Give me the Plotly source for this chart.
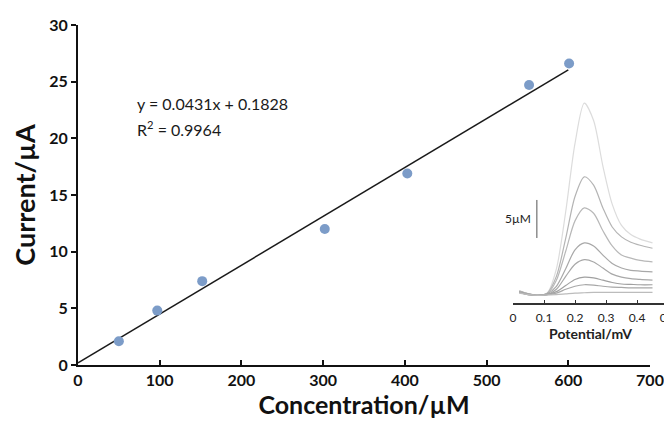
import plotly.graph_objects as go

# ---- main calibration data ----
conc = [50, 97, 152, 302, 403, 552, 601]
current = [2.1, 4.8, 7.4, 12.0, 16.9, 24.7, 26.6]
slope = 0.0431
intercept = 0.1828
fit_x = [0, 600]
eq_text = "y = 0.0431x + 0.1828"
r2_text = "R<sup>2</sup> = 0.9964"
x_ticks = [0, 100, 200, 300, 400, 500, 600, 700]
y_ticks = [0, 5, 10, 15, 20, 25, 30]

# ---- inset voltammograms ----
potential = [0.02, 0.05, 0.08, 0.11, 0.14, 0.17, 0.20, 0.23, 0.26, 0.29, 0.32, 0.35, 0.38, 0.41, 0.45]
curve1 = [1.6, 1.2, 1.0, 1.3, 4.5, 12.0, 21.0, 26.3, 24.0, 18.0, 13.0, 10.2, 9.0, 8.4, 7.9]
curve2 = [1.6, 1.2, 1.0, 1.3, 3.5, 8.5, 14.0, 16.6, 15.5, 12.5, 10.0, 8.7, 8.0, 7.6, 7.2]
curve3 = [1.5, 1.2, 1.0, 1.2, 3.0, 6.8, 10.8, 12.5, 11.8, 9.5, 7.5, 6.3, 5.9, 5.6, 5.4]
curve4 = [1.5, 1.2, 1.0, 1.2, 2.2, 4.5, 7.0, 7.9, 7.5, 6.3, 5.2, 4.6, 4.3, 4.2, 4.1]
curve5 = [1.4, 1.1, 1.0, 1.1, 1.8, 3.5, 5.1, 5.7, 5.4, 4.6, 3.8, 3.4, 3.2, 3.1, 3.0]
curve6 = [1.4, 1.1, 1.0, 1.1, 1.5, 2.3, 3.1, 3.4, 3.3, 3.0, 2.7, 2.5, 2.45, 2.4, 2.4]
curve7 = [1.4, 1.1, 1.0, 1.1, 1.3, 1.8, 2.2, 2.4, 2.35, 2.2, 2.1, 2.05, 2.0, 2.0, 2.0]
curve8 = [1.3, 1.1, 1.0, 1.05, 1.1, 1.2, 1.3, 1.35, 1.4, 1.4, 1.4, 1.4, 1.4, 1.4, 1.4]
curves = [curve1, curve2, curve3, curve4, curve5, curve6, curve7, curve8]
curve_colors = ["#dcdcdc", "#b4b4b4", "#b8b8b8", "#a8a8a8", "#a8a8a8", "#a0a0a0", "#a8a8a8", "#bcbcbc"]
inset_ticks = [0, 0.1, 0.2, 0.3, 0.4, 0.5]
inset_ticktext = ["0", "0.1", "0.2", "0.3", "0.4", "0.5"]
scale_bar_x = 0.077
scale_bar_y0 = 8.55
scale_bar_len = 5
scale_bar_label = "5µM"
eq_pos = (70, 23.1)
r2_pos = (70, 20.9)

FONT = "Lato"

# page is shown with an 8px body offset; layout numbers below are figure pixels
L, T = 70, 17
PW, PH = 602, 340

fig = go.Figure()

# trend line
fig.add_trace(go.Scatter(
    x=fit_x, y=[slope * v + intercept for v in fit_x],
    mode="lines", line=dict(color="#1a1a1a", width=1.5),
    showlegend=False, hoverinfo="skip"))

# data points
fig.add_trace(go.Scatter(
    x=conc, y=current, mode="markers",
    marker=dict(size=10, color="#7c9cc8", line=dict(width=0)),
    showlegend=False))

# inset curves
for c, col in zip(curves, curve_colors):
    fig.add_trace(go.Scatter(
        x=potential, y=c, mode="lines", xaxis="x2", yaxis="y2",
        line=dict(color=col, width=1.2, shape="spline", smoothing=0.8),
        showlegend=False, hoverinfo="skip"))

# scale bar
fig.add_trace(go.Scatter(
    x=[scale_bar_x, scale_bar_x], y=[scale_bar_y0, scale_bar_y0 + scale_bar_len],
    mode="lines", xaxis="x2", yaxis="y2",
    line=dict(color="#555555", width=1),
    showlegend=False, hoverinfo="skip"))

fig.update_layout(
    width=672, height=432,
    margin=dict(l=L, r=672 - L - PW, t=T, b=432 - T - PH),
    paper_bgcolor="white", plot_bgcolor="rgba(0,0,0,0)",
    font=dict(family=FONT, color="#1a1a1a"),
    xaxis=dict(
        domain=[0, 572 / PW], range=[0, 700], tickvals=x_ticks, automargin=False,
        showgrid=False, zeroline=False, showline=True, linecolor="#111111", linewidth=2,
        ticks="inside", ticklen=5, tickwidth=1.5, tickcolor="#111111",
        tickfont=dict(size=16, family=FONT, color="#111111", weight="bold"),
        title=dict(text="Concentration/µM", standoff=4,
                   font=dict(size=25, family=FONT, color="#111111", weight="bold")),
    ),
    yaxis=dict(
        domain=[0, 1], range=[0, 30], tickvals=y_ticks, automargin=False,
        showgrid=False, zeroline=False, showline=True, linecolor="#111111", linewidth=2,
        ticks="outside", ticklen=5, tickwidth=1.5, tickcolor="#111111",
        tickfont=dict(size=16, family=FONT, color="#111111", weight="bold"),
        title=dict(text="Current/µA", standoff=8,
                   font=dict(size=27, family=FONT, color="#111111", weight="bold")),
    ),
    xaxis2=dict(
        domain=[(505 - L) / PW, (660 - L) / PW], range=[0, 0.5], anchor="y2",
        tickvals=inset_ticks, ticktext=inset_ticktext, automargin=False,
        showgrid=False, zeroline=False, showline=True, linecolor="#333333", linewidth=1.5,
        ticks="inside", ticklen=3, tickcolor="#333333", ticklabelstandoff=3,
        tickfont=dict(size=12, family=FONT, color="#222222"),
        title=dict(text="Potential/mV", standoff=4,
                   font=dict(size=14, family=FONT, color="#222222", weight="bold")),
    ),
    yaxis2=dict(
        domain=[(365 - 303) / PH, (365 - 100) / PH], range=[0, 26.7], anchor="x2",
        visible=False,
    ),
)

fig.add_annotation(x=eq_pos[0], y=eq_pos[1], xref="x", yref="y", text=eq_text, showarrow=False,
                   xanchor="left", yanchor="middle",
                   font=dict(size=16, family=FONT, color="#1a1a1a"))
fig.add_annotation(x=r2_pos[0], y=r2_pos[1], xref="x", yref="y", text=r2_text, showarrow=False,
                   xanchor="left", yanchor="middle",
                   font=dict(size=16, family=FONT, color="#1a1a1a"))
fig.add_annotation(x=scale_bar_x - 0.012, y=scale_bar_y0 + scale_bar_len / 2, xref="x2", yref="y2",
                   text=scale_bar_label, showarrow=False, xanchor="right", yanchor="middle",
                   font=dict(size=12, family=FONT, color="#222222"))

fig.write_html("out.html")
